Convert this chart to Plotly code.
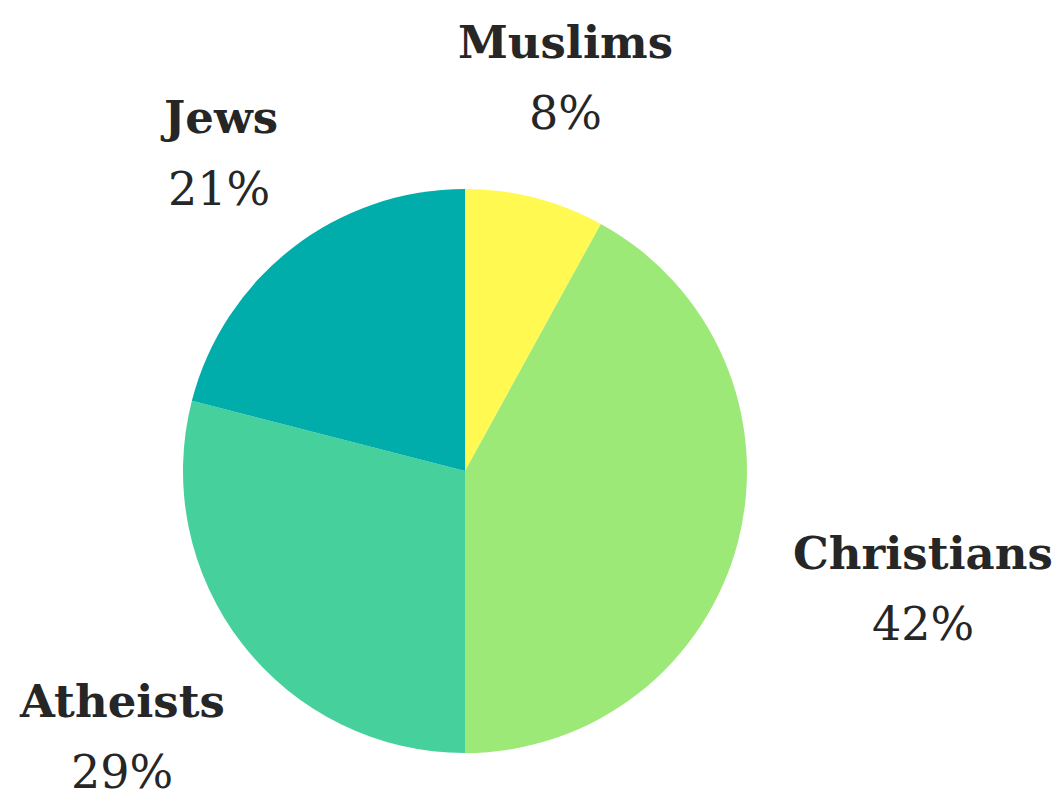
import math
import plotly.graph_objects as go

labels = ["Muslims", "Christians", "Atheists", "Jews"]
values = [8, 42, 29, 21]
colors = ["#FFF952", "#9DE978", "#46D09B", "#00ADAA"]

W, H = 1052, 793
cx, cy, r = 465, 471, 282  # pie centre/radius in pixels (from top-left)
FS_NAME, FS_PCT = 45, 46
LINE = 71          # distance between the two label lines
GAP = 64           # gap between pie edge and label block

FONT = "DejaVu Serif"


def text_width(txt, size, bold):
    try:
        from PIL import ImageFont
        f = ImageFont.truetype("DejaVuSerif-Bold.ttf" if bold else "DejaVuSerif.ttf", size)
        return f.getlength(txt)
    except Exception:
        return len(txt) * size * (0.66 if bold else 0.64)


fig = go.Figure(go.Pie(
    labels=labels, values=values, sort=False, direction="clockwise", rotation=0,
    marker=dict(colors=colors, line=dict(width=0)),
    textinfo="none", hoverinfo="label+percent", showlegend=False,
    domain=dict(x=[(cx - r) / W, (cx + r) / W], y=[(H - cy - r) / H, (H - cy + r) / H]),
))

total = sum(values)
cum = 0
annotations = []
for lab, v in zip(labels, values):
    mid = (cum + v / 2) / total * 2 * math.pi
    cum += v
    s, c = math.sin(mid), -math.cos(mid)  # screen direction (y down)
    pct = f"{round(v / total * 100)}%"
    w = max(text_width(lab, FS_NAME, True), text_width(pct, FS_PCT, False))
    h = LINE + 40
    R = r + GAP + math.hypot(w / 2 * s, h / 2 * c)
    px, py = cx + s * R, cy + c * R
    for txt, dy, fs in ((f"<b>{lab}</b>", -LINE / 2, FS_NAME), (pct, LINE / 2, FS_PCT)):
        annotations.append(dict(
            x=px / W, y=(H - (py + dy)) / H, xref="paper", yref="paper",
            xanchor="center", yanchor="middle", align="center", showarrow=False,
            text=txt, font=dict(family=FONT, size=fs, color="#262626"),
        ))

fig.update_layout(
    width=W, height=H, margin=dict(l=0, r=0, t=0, b=0),
    paper_bgcolor="white", plot_bgcolor="white",
    annotations=annotations,
)
fig.write_html("out.html")
